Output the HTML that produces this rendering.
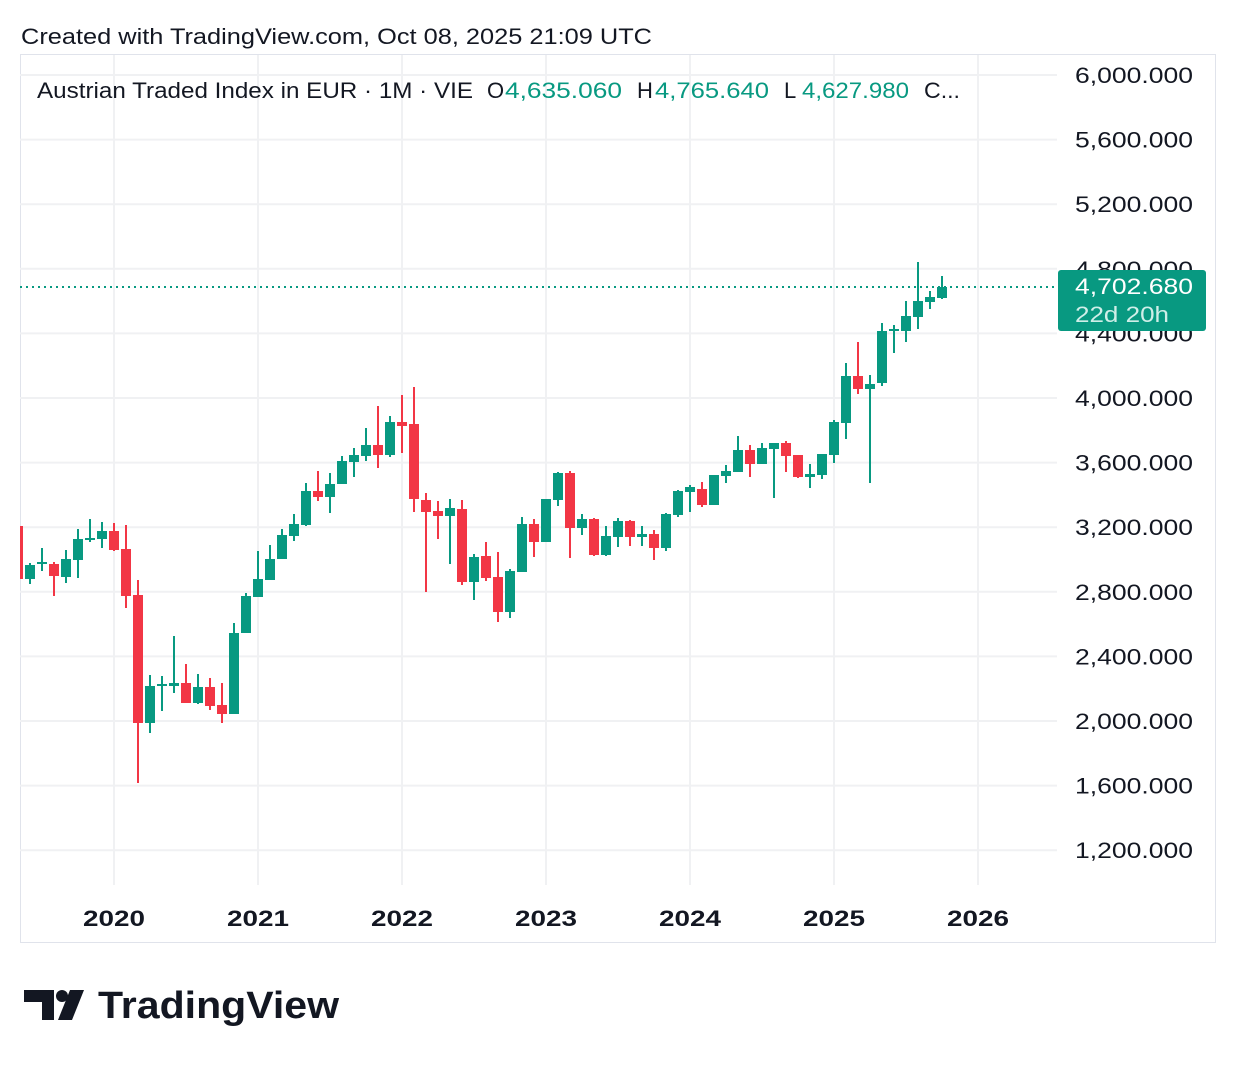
<!DOCTYPE html>
<html><head><meta charset="utf-8"><style>
body{margin:0;background:#fff;width:1236px;height:1064px;overflow:hidden;font-family:"Liberation Sans",sans-serif}
</style></head><body>
<svg id="s" width="1236" height="1064" xmlns="http://www.w3.org/2000/svg" font-family="Liberation Sans, sans-serif">
<text x="21" y="44" font-size="22" fill="#131722" textLength="631" lengthAdjust="spacingAndGlyphs">Created with TradingView.com, Oct 08, 2025 21:09 UTC</text>
<rect x="20.5" y="54.5" width="1195" height="888" fill="none" stroke="#e0e3eb"/>
<g id="grid" stroke="#f0f1f3" stroke-width="2"></g>
<line x1="20" y1="287" x2="1057" y2="287" stroke="#089981" stroke-width="2" stroke-dasharray="2,4"/>
<g id="c"></g>
<g font-size="22" fill="#131722">
<text x="37" y="98" textLength="436" lengthAdjust="spacingAndGlyphs">Austrian Traded Index in EUR · 1M · VIE</text>
<text x="487" y="98">O</text><text x="505" y="98" fill="#089981" textLength="117" lengthAdjust="spacingAndGlyphs">4,635.060</text>
<text x="637" y="98">H</text><text x="655" y="98" fill="#089981" textLength="114" lengthAdjust="spacingAndGlyphs">4,765.640</text>
<text x="784" y="98">L</text><text x="802" y="98" fill="#089981" textLength="107" lengthAdjust="spacingAndGlyphs">4,627.980</text>
<text x="924" y="98" textLength="36" lengthAdjust="spacingAndGlyphs">C...</text>
</g>
<g id="ax" font-size="22" fill="#131722"></g>
<rect x="1058" y="270" width="148" height="61" rx="3" fill="#089981"/>
<text x="1075" y="294" font-size="22" fill="#fff" textLength="118" lengthAdjust="spacingAndGlyphs">4,702.680</text>
<text x="1075" y="322" font-size="22" fill="#cfeee8" textLength="94" lengthAdjust="spacingAndGlyphs">22d 20h</text>
<g id="yr" font-size="22" font-weight="bold" fill="#131722"></g>
<g fill="#131722">
<path d="M24 990h30v30h-12v-18h-18z"/><circle cx="62" cy="996" r="6"/><path d="M58 1020l12-30h14l-12 30z"/>
<text x="98" y="1018" font-size="38" font-weight="bold" textLength="241" lengthAdjust="spacingAndGlyphs">TradingView</text>
</g>
</svg>
<script>
var NS="http://www.w3.org/2000/svg";
function el(p,t,a,tx){var e=document.createElementNS(NS,t);for(var k in a)e.setAttribute(k,a[k]);if(tx)e.textContent=tx;p.appendChild(e);return e;}
var g=document.getElementById('grid'),ax=document.getElementById('ax'),yr=document.getElementById('yr');
var labels=["6,000.000","5,600.000","5,200.000","4,800.000","4,400.000","4,000.000","3,600.000","3,200.000","2,800.000","2,400.000","2,000.000","1,600.000","1,200.000"];
for(var i=0;i<13;i++){var y=75+i*64.6;el(g,'line',{x1:20,x2:1057,y1:y,y2:y});el(ax,'text',{x:1075,y:y+8,textLength:118,lengthAdjust:'spacingAndGlyphs'},labels[i]);}
var yy=2020;
for(var x=114;x<=978;x+=144){el(g,'line',{x1:x,x2:x,y1:55,y2:885});el(yr,'text',{x:x-31,y:926,textLength:62,lengthAdjust:'spacingAndGlyphs'},String(yy++));}
var d=[
[18,526,579,526,579,'r'],[30,579,565,563,584,'g'],[42,564,562,548,571,'g'],[54,564,576,562,596,'r'],[66,577,559,550,583,'g'],[78,560,539,529,578,'g'],[90,540,538,519,542,'g'],[102,539,531,522,548,'g'],[114,531,550,523,551,'r'],[126,549,596,525,608,'r'],[138,595,723,580,783,'r'],[150,723,686,675,733,'g'],[162,686,684,676,711,'g'],[174,686,683,636,693,'g'],[186,683,703,664,703,'r'],[198,703,687,674,704,'g'],[210,687,706,678,710,'r'],[222,705,714,683,723,'r'],[234,714,633,623,714,'g'],[246,633,596,593,633,'g'],[258,597,579,551,597,'g'],[270,580,559,545,580,'g'],[282,559,535,529,559,'g'],[294,536,524,514,541,'g'],[306,525,491,483,526,'g'],[318,491,497,471,501,'r'],[330,497,484,473,513,'g'],[342,484,461,456,484,'g'],[354,462,455,448,477,'g'],[366,456,445,428,461,'g'],[378,445,455,406,468,'r'],[390,455,422,416,457,'g'],[402,422,426,395,453,'r'],[414,424,499,387,512,'r'],[426,500,512,493,592,'r'],[438,511,516,501,539,'r'],[450,516,508,499,564,'g'],[462,509,582,500,585,'r'],[474,582,557,554,600,'g'],[486,556,578,542,581,'r'],[498,577,612,552,622,'r'],[510,612,571,569,618,'g'],[522,572,524,517,572,'g'],[534,524,542,519,557,'r'],[546,542,499,499,542,'g'],[558,500,473,472,506,'g'],[570,473,528,471,558,'r'],[582,528,519,514,535,'g'],[594,519,555,518,556,'r'],[606,555,536,526,556,'g'],[618,537,521,518,547,'g'],[630,521,537,520,546,'r'],[642,537,534,526,546,'g'],[654,534,548,530,560,'r'],[666,548,514,513,551,'g'],[678,515,491,490,517,'g'],[690,492,487,485,512,'g'],[702,489,505,482,507,'r'],[714,505,475,475,505,'g'],[726,476,471,465,483,'g'],[738,472,450,436,472,'g'],[750,450,464,445,477,'r'],[762,464,448,443,464,'g'],[774,449,443,443,498,'g'],[786,443,456,441,472,'r'],[798,455,477,455,478,'r'],[810,477,474,464,488,'g'],[822,475,454,454,479,'g'],[834,455,422,420,463,'g'],[846,423,376,363,439,'g'],[858,376,389,342,394,'r'],[870,389,384,375,483,'g'],[882,383,331,323,386,'g'],[894,331,329,325,353,'g'],[906,331,316,301,342,'g'],[918,317,301,262,329,'g'],[930,302,297,291,309,'g'],[942,298,287,276,299,'g']];
var c=document.getElementById('c');
d.forEach(function(k){var col=k[5]=='g'?'#089981':'#f23645';var t=Math.min(k[1],k[2]),b=Math.max(k[1],k[2]);if(b-t<2){b=t+2;}
var xl=Math.max(k[0]-5,20);
el(c,'rect',{x:Math.max(k[0]-1,20),y:k[3],width:2,height:k[4]-k[3],fill:col});
el(c,'rect',{x:xl,y:t,width:k[0]+5-xl,height:b-t,fill:col});});
</script>
</body></html>
